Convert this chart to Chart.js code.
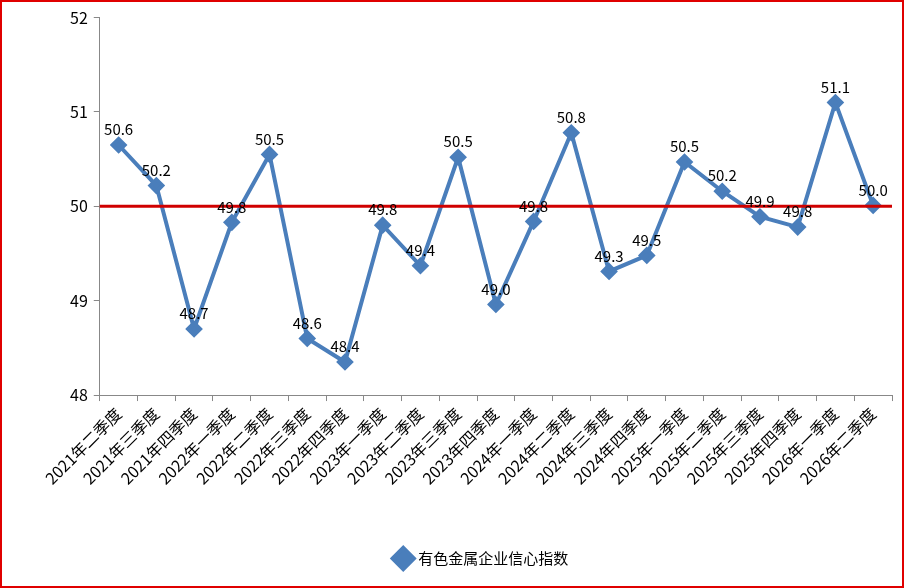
<!DOCTYPE html>
<html lang="zh">
<head>
<meta charset="UTF-8" />
<script src="https://cdn.jsdelivr.net/npm/chart.js"></script>
<style>
  html, body { margin: 0; padding: 0; background: #fff; }
  #wrap { position: absolute; left: 0; top: 0; width: 900px; height: 584px; border: 2px solid #e00000; }
  canvas { display: block; }
</style>
</head>
<body>
<div id="wrap"><canvas id="c" width="900" height="584"></canvas></div>
<script>
  const categories = ['2021年二季度','2021年三季度','2021年四季度','2022年一季度','2022年二季度','2022年三季度','2022年四季度',
    '2023年一季度','2023年二季度','2023年三季度','2023年四季度','2024年一季度','2024年二季度','2024年三季度','2024年四季度',
    '2025年一季度','2025年二季度','2025年三季度','2025年四季度','2026年一季度','2026年二季度'];
  const values = [50.65,50.22,48.7,49.83,50.55,48.6,48.35,49.8,49.37,50.52,48.96,49.84,50.78,49.31,49.48,50.47,50.16,49.89,49.78,51.1,50.01];
  const valueLabels = ['50.6','50.2','48.7','49.8','50.5','48.6','48.4','49.8','49.4','50.5','49.0','49.8','50.8','49.3','49.5','50.5','50.2','49.9','49.8','51.1','50.0'];
  const yTicks = [48, 49, 50, 51, 52];
  const baseLine = 50;
  const font = "'Noto Sans CJK SC', 'Liberation Sans', sans-serif";

  // 红色基准线 + 数据标签
  const extras = {
    id: 'extras',
    afterDatasetsDraw(chart) {
      const ctx = chart.ctx, x = chart.scales.x, y = chart.scales.y;
      const py = y.getPixelForValue(baseLine);
      ctx.save();
      ctx.strokeStyle = '#d00000';
      ctx.lineWidth = 3;
      ctx.beginPath(); ctx.moveTo(x.left, py); ctx.lineTo(x.right, py); ctx.stroke();
      ctx.fillStyle = '#000';
      ctx.font = '15px ' + font;
      ctx.textAlign = 'center';
      ctx.textBaseline = 'bottom';
      chart.getDatasetMeta(0).data.forEach((pt, i) => {
        ctx.fillText(valueLabels[i], pt.x, pt.y - 8);
      });
      ctx.restore();
    }
  };

  new Chart(document.getElementById('c'), {
    type: 'line',
    data: {
      labels: categories,
      datasets: [{
        label: '有色金属企业信心指数',
        data: values,
        borderColor: '#4a7ebb',
        backgroundColor: '#4a7ebb',
        borderWidth: 4,
        pointStyle: 'rectRot',
        pointRadius: 6,
        tension: 0
      }]
    },
    options: {
      responsive: false,
      animation: false,
      layout: { padding: { left: 62, right: 2, top: 2, bottom: 10 } },
      plugins: {
        legend: {
          position: 'bottom',
          labels: { font: { family: font, size: 15 }, color: '#000', usePointStyle: true, pointStyle: 'rectRot', boxWidth: 40, padding: 60 }
        },
        tooltip: { enabled: false }
      },
      scales: {
        x: {
          offset: true,
          grid: { display: true, offset: true, drawOnChartArea: false, tickLength: 6, color: '#888' },
          border: { color: '#888' },
          ticks: { font: { family: font, size: 16 }, color: '#000', maxRotation: 45, minRotation: 45, autoSkip: false }
        },
        y: {
          min: 48, max: 52,
          afterBuildTicks(s) { s.ticks = yTicks.map(v => ({ value: v })); },
          grid: { display: true, drawOnChartArea: false, tickLength: 6, color: '#888' },
          border: { color: '#888' },
          ticks: { font: { family: font, size: 16 }, color: '#000', padding: 6 }
        }
      }
    },
    plugins: [extras]
  });
</script>
</body>
</html>
